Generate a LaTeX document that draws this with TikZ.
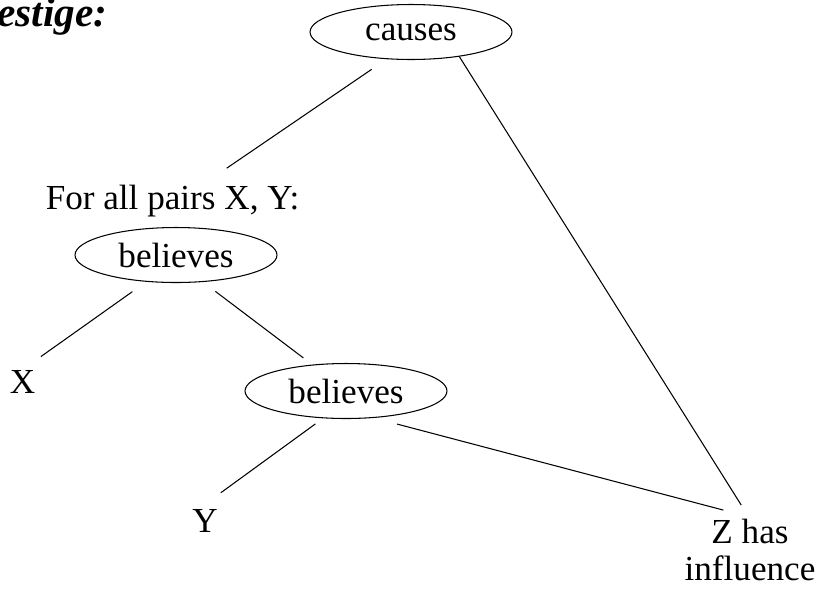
\documentclass[tikz,border=0pt]{standalone}
\usepackage{fontspec}
\setmainfont{Liberation Serif}
\usetikzlibrary{shapes.geometric}
\tikzset{
  oval/.style={ellipse, draw, line width=0.6pt, minimum width=4.04cm, minimum height=1.1cm, inner sep=0pt, font=\fontsize{20}{21}\selectfont},
  term/.style={inner sep=0pt, font=\fontsize{20}{21}\selectfont, align=center},
  link/.style={line width=0.6pt},
}
\begin{document}
\begin{tikzpicture}[x=0.02cm, y=-0.02cm]
  \useasboundingbox (0,0) rectangle (820,589);
  \node[term, anchor=base east, font=\fontsize{23.5}{25}\selectfont\bfseries\itshape] (title) at (108,26) {Prestige:};
  \node[oval] (causes) at (411,32) {causes};
  \node[term, anchor=base] (forall) at (172.5,209) {For all pairs X, Y:};
  \node[oval] (bel1) at (176,255) {believes};
  \node[term, anchor=base] (X) at (22.5,393) {X};
  \node[oval] (bel2) at (346,391) {believes};
  \node[term, anchor=base] (Y) at (205,532) {Y};
  \node[term, anchor=north] (Z) at (750,519) {Z has\\influence};

  \draw[link, shorten <=0.36cm, shorten >=0.57cm] (causes.228) -- (forall.28);
  \draw[link, shorten >=0.33cm] (causes.-27) -- (Z.north);
  \draw[link, shorten <=0.34cm, shorten >=0.45cm] (bel1.222) -- (X.north);
  \draw[link, shorten <=0.31cm, shorten >=0.22cm] (bel1.-45) -- (bel2.142);
  \draw[link, shorten <=0.19cm, shorten >=0.54cm] (bel2.230) -- (Y.117);
  \draw[link, shorten <=0.48cm, shorten >=0.7cm] (bel2.-44) -- (Z.77);
\end{tikzpicture}
\end{document}
